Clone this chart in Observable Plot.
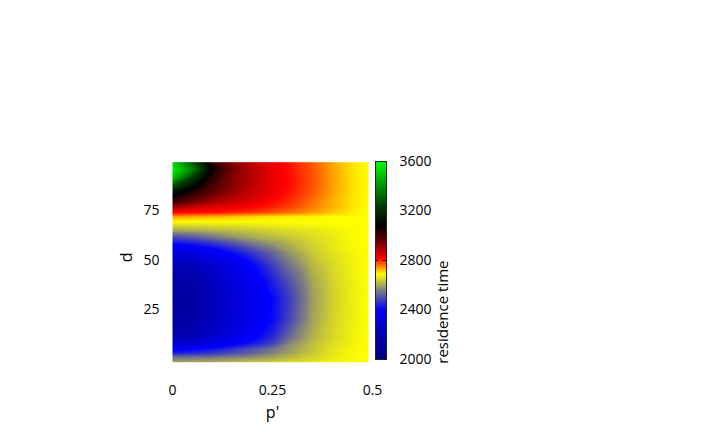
<!DOCTYPE html>
<html>
<head>
<meta charset="utf-8">
<script src="https://cdn.jsdelivr.net/npm/d3@7"></script>
<script src="https://cdn.jsdelivr.net/npm/@observablehq/plot@0.6"></script>
<style>
  html, body { margin: 0; padding: 0; background: #fff; }
  #wrap { position: relative; width: 720px; height: 432px; }
  #wrap svg { position: absolute; left: 0; top: 0; }
</style>
</head>
<body>
<div id="wrap"></div>
<script>
// p' columns
const pPrime = [0, 0.05, 0.1, 0.15, 0.2, 0.25, 0.3, 0.35, 0.4, 0.45, 0.49];
// d rows
const dRows = [-1.5, 1, 3, 5, 8, 12, 20, 30, 40, 48, 54, 58, 62, 65, 68, 70, 72, 74, 77, 80, 84, 88, 92, 96, 99.5];
// residence time, one row per d value, one column per p' value
const residence = [
  [2600, 2602, 2608, 2618, 2630, 2642, 2655, 2668, 2680, 2688, 2690],
  [2540, 2543, 2550, 2560, 2575, 2595, 2620, 2645, 2668, 2684, 2690],
  [2440, 2450, 2470, 2495, 2525, 2560, 2600, 2638, 2666, 2683, 2690],
  [2380, 2400, 2430, 2465, 2505, 2545, 2590, 2630, 2662, 2682, 2690],
  [2270, 2290, 2335, 2385, 2425, 2480, 2575, 2625, 2655, 2678, 2690],
  [2195, 2215, 2265, 2325, 2385, 2445, 2540, 2610, 2650, 2676, 2690],
  [2150, 2170, 2225, 2290, 2355, 2410, 2500, 2595, 2645, 2674, 2690],
  [2140, 2160, 2215, 2285, 2350, 2405, 2490, 2590, 2642, 2673, 2690],
  [2160, 2180, 2235, 2305, 2370, 2440, 2515, 2600, 2645, 2675, 2690],
  [2210, 2230, 2280, 2345, 2405, 2480, 2560, 2620, 2652, 2678, 2690],
  [2310, 2330, 2370, 2420, 2470, 2530, 2590, 2635, 2662, 2682, 2690],
  [2400, 2420, 2450, 2490, 2540, 2580, 2615, 2645, 2668, 2685, 2690],
  [2500, 2520, 2555, 2585, 2605, 2625, 2640, 2655, 2671, 2685, 2690],
  [2600, 2605, 2615, 2625, 2635, 2645, 2655, 2665, 2675, 2685, 2690],
  [2660, 2662, 2665, 2668, 2672, 2676, 2680, 2684, 2687, 2689, 2690],
  [2700, 2700, 2698, 2697, 2695, 2694, 2693, 2692, 2691, 2690, 2690],
  [2740, 2735, 2730, 2722, 2712, 2703, 2697, 2693, 2690, 2690, 2690],
  [2820, 2815, 2810, 2800, 2792, 2778, 2760, 2740, 2718, 2698, 2690],
  [2920, 2875, 2848, 2832, 2820, 2805, 2785, 2758, 2730, 2705, 2690],
  [3020, 2960, 2910, 2875, 2848, 2820, 2795, 2765, 2730, 2702, 2690],
  [3120, 3040, 2965, 2910, 2868, 2832, 2805, 2775, 2737, 2705, 2690],
  [3300, 3120, 3000, 2930, 2880, 2838, 2810, 2780, 2740, 2706, 2690],
  [3500, 3250, 3030, 2935, 2882, 2840, 2810, 2780, 2740, 2706, 2690],
  [3580, 3380, 3070, 2950, 2885, 2840, 2808, 2778, 2738, 2705, 2690],
  [3520, 3280, 3010, 2920, 2870, 2835, 2805, 2775, 2735, 2704, 2690]
];
// colour map
const colorStops = [2000, 2200, 2400, 2560, 2690, 2755, 2820, 2950, 3080, 3250, 3600];
const colorRange = ["#000080", "#0000b0", "#0000ff", "#808080", "#ffff00", "#ff8000", "#ff0000", "#700000", "#000000", "#004000", "#00ff00"];
// ticks
const xTicks = [0, 0.25, 0.5];
const yTicks = [25, 50, 75];
const cTicks = [2000, 2400, 2800, 3200, 3600];
const cMarks = [2400, 2800, 3200];

const table = dRows.flatMap((d, i) => pPrime.map((p, j) => ({p, d, v: residence[i][j]})));

const colorOpts = {type: "linear", domain: colorStops, range: colorRange, interpolate: "rgb"};
const font = {fontFamily: "'Open Sans', 'Liberation Sans', sans-serif", fontSize: "14px", background: "transparent", color: "#000"};

const main = Plot.plot({
  width: 720, height: 432,
  marginLeft: 172, marginRight: 348, marginTop: 161.7, marginBottom: 70.3,
  style: font,
  x: {domain: [0, 0.5], ticks: xTicks, tickSize: 0, tickPadding: 23, tickFormat: d => String(d), label: null},
  y: {domain: [-1.5, 99.5], ticks: yTicks, tickSize: 0, tickPadding: 13, tickFormat: d => String(d), label: null},
  color: colorOpts,
  marks: [
    Plot.raster(table, {x: "p", y: "d", fill: "v", interpolate: "barycentric", x1: 0, x2: 0.49, y1: -1.5, y2: 99.5}),
    Plot.text(["d"], {frameAnchor: "left", dx: -46, rotate: -90, fontSize: 16}),
    Plot.text(["p'"], {frameAnchor: "bottom", dy: 56, fontSize: 16})
  ]
});

const bar = Plot.plot({
  width: 720, height: 432,
  marginLeft: 375, marginRight: 334, marginTop: 161, marginBottom: 73,
  style: font,
  x: {domain: [0, 1], axis: null},
  y: {domain: [2000, 3600], ticks: cTicks, tickSize: 0, tickPadding: 13, axis: "right", tickFormat: d => String(d), label: null},
  color: colorOpts,
  marks: [
    Plot.raster({fill: (x, y) => y, x1: 0, x2: 1, y1: 2000, y2: 3600}),
    Plot.tickY(cMarks, {y: d => d, stroke: "#222", insetRight: 8}),
    Plot.tickY(cMarks, {y: d => d, stroke: "#222", insetLeft: 8}),
    Plot.frame({stroke: "#222"}),
    Plot.text(["residence time"], {frameAnchor: "right", dx: 57, rotate: -90, fontSize: 15})
  ]
});

const wrap = document.getElementById("wrap");
wrap.appendChild(main);
wrap.appendChild(bar);
</script>
</body>
</html>
